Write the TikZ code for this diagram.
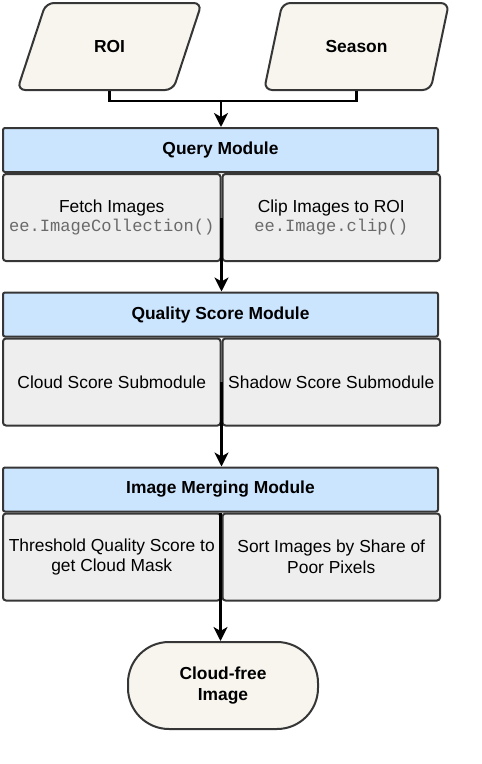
\documentclass[tikz,border=0pt]{standalone}
\usepackage{fontspec}
\setmainfont{Liberation Sans}
\setmonofont{Liberation Mono}
\usetikzlibrary{positioning,shapes.geometric,arrows.meta}

\definecolor{edgegray}{HTML}{363636}
\definecolor{inputfill}{HTML}{F7F5EE}
\definecolor{headfill}{HTML}{CCE5FF}
\definecolor{subfill}{HTML}{EEEEEE}
\definecolor{codegray}{HTML}{6A6A6A}
\newcommand{\eecode}[1]{{\fontsize{17.1}{20.5}\selectfont\ttfamily\color{codegray}#1}}

\begin{document}
\begin{tikzpicture}[x=1pt, y=-1pt, node distance=0pt,
    font=\fontsize{17.4}{20.5}\selectfont,
    input node/.style={trapezium, trapezium stretches=true, trapezium left angle=66,
      trapezium right angle=114, minimum width=185pt, minimum height=87pt,
      draw=edgegray, line width=2pt, fill=inputfill, rounded corners=8pt, font=\fontsize{17.4}{20.5}\selectfont\bfseries},
    head node/.style={rectangle, draw=edgegray, line width=2pt, fill=headfill, rounded corners=2pt,
      minimum width=435pt, minimum height=44pt, inner sep=0pt, font=\fontsize{17.4}{20.5}\selectfont\bfseries},
    sub node/.style={rectangle, draw=edgegray, line width=2pt, fill=subfill, rounded corners=3pt,
      minimum width=217.5pt, minimum height=87pt, inner sep=0pt, align=center},
    end node/.style={rectangle, draw=edgegray, line width=2pt, fill=inputfill, rounded corners=41pt,
      minimum width=190pt, minimum height=87pt, align=center, font=\fontsize{17.4}{20.5}\selectfont\bfseries},
    link/.style={line width=2.5pt, black},
    flow/.style={line width=2.5pt, black, -{Stealth[length=14pt, width=14pt, inset=4pt]}}]

  \useasboundingbox (0,0) rectangle (482,764);

  \node[input node] (roi) at (109.5,46.5) {ROI};
  \node[input node] (season) at (356.5,46.5) {Season};
  \coordinate (join) at (221,101);

  \node[head node] (qhead) at (220.5,150) {Query Module};
  \node[sub node, below right=0pt and 0pt of qhead.south west] (fetch)
    {Fetch Images\\[-1pt]\eecode{ee.ImageCollection()}};
  \node[sub node, right=0pt of fetch] (clip)
    {Clip Images to ROI\\[-1pt]\eecode{ee.Image.clip()}};

  \node[head node] (shead) at (220.5,314.5) {Quality Score Module};
  \node[sub node, below right=0pt and 0pt of shead.south west] (cloud) {Cloud Score Submodule};
  \node[sub node, right=0pt of cloud] (shadow) {Shadow Score Submodule};

  \node[head node] (mhead) at (220.5,489.5) {Image Merging Module};
  \node[sub node, below right=0pt and 0pt of mhead.south west] (thresh)
    {Threshold Quality Score to\\get Cloud Mask};
  \node[sub node, right=0pt of thresh] (sort) {Sort Images by Share of\\Poor Pixels};

  \node[end node] (result) at (223,685.5) {Cloud-free\\Image};

  \draw[link] (roi.south) |- (join) -| (season.south);
  \draw[flow] (join) -- (join |- qhead.north);
  \draw[flow] (fetch.east) -- (fetch.east |- shead.north);
  \draw[flow] (cloud.east) -- (cloud.east |- mhead.north);
  \draw[flow] (mhead.south) -- (mhead.south |- result.north);

\end{tikzpicture}
\end{document}
